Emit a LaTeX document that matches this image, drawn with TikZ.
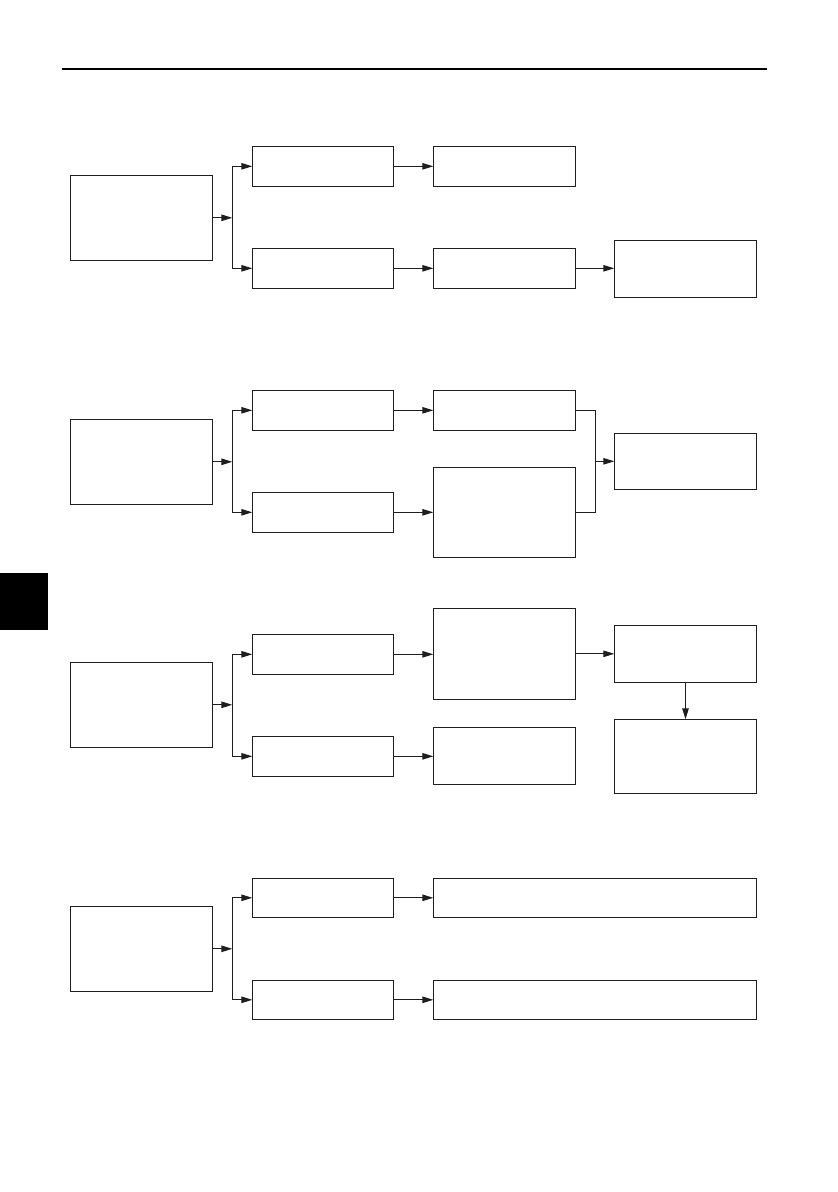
\documentclass[tikz,border=0pt]{standalone}
\usetikzlibrary{arrows.meta,calc}
\definecolor{ink}{RGB}{30,30,30}
\tikzset{
  box/.style={draw=ink, line width=1.2pt, rectangle, inner sep=0pt, outer sep=0pt, anchor=north west},
  arr/.style={draw=ink, line width=1.1pt, -{Triangle[length=11pt,width=6.5pt]}},
  ln/.style={draw=ink, line width=1.1pt},
}
% \bx{name}{x1}{y1}{x2}{y2}
\newcommand{\bx}[5]{\node[box, minimum width={(#4)-(#2)}, minimum height={(#5)-(#3)}] (#1) at (#2,#3) {};}
\begin{document}
\begin{tikzpicture}[x=1pt,y=-1pt]
\useasboundingbox (0,0) rectangle (838,1192);
% header rule and side tab
\draw[line width=2.4pt, black] (62,69) -- (767,69);
\fill[black] (0,573) rectangle (48,630);

% ---------- section 1 ----------
\bx{aA}{70.3}{175.3}{212.3}{260.3}
\bx{aB1}{252.3}{146.3}{393.3}{186.3}
\bx{aC1}{433.3}{146.3}{575.7}{186.3}
\bx{aB2}{252.3}{248.3}{393.3}{288.3}
\bx{aC2}{433.3}{248.3}{575.7}{288.3}
\bx{aD}{614.3}{240.3}{756.7}{297.3}
\coordinate (aJ) at ($(aA.east)+(20,0)$);
\draw[arr] (aA.east) -- (aJ);
\draw[arr] (aJ) |- (aB1.west);
\draw[arr] (aJ) |- (aB2.west);
\draw[arr] (aB1.east) -- (aC1.west);
\draw[arr] (aB2.east) -- (aC2.west);
\draw[arr] (aC2.east) -- (aC2.east -| aD.west);

% ---------- section 2 ----------
\bx{bA}{70.3}{419.3}{212.3}{504.3}
\bx{bB1}{252.3}{390.3}{393.3}{430.3}
\bx{bC1}{433.3}{390.3}{575.7}{430.3}
\bx{bB2}{252.3}{492.3}{393.3}{532.3}
\bx{bC2}{433.3}{467.3}{575.7}{557.3}
\bx{bD}{614.3}{433.3}{756.7}{489.3}
\coordinate (bJ) at ($(bA.east)+(20,0)$);
\draw[arr] (bA.east) -- (bJ);
\draw[arr] (bJ) |- (bB1.west);
\draw[arr] (bJ) |- (bB2.west);
\draw[arr] (bB1.east) -- (bC1.west);
\draw[arr] (bB2.east) -- (bB2.east -| bC2.west);
\coordinate (bM) at ($(bC1.east)+(20,0)$);
\draw[ln] (bC1.east) -| (bM) |- (bC2.east);
\draw[arr] (bM |- bD.west) -- (bD.west);

% ---------- section 3 ----------
\bx{cA}{70.3}{662.3}{212.3}{747.3}
\bx{cB1}{252.3}{634.3}{393.3}{674.3}
\bx{cC1}{433.3}{608.3}{575.7}{699.3}
\bx{cB2}{252.3}{736.3}{393.3}{776.3}
\bx{cC2}{433.3}{727.3}{575.7}{784.3}
\bx{cD}{614.3}{625.3}{756.7}{682.3}
\bx{cE}{614.3}{719.3}{756.7}{793.3}
\coordinate (cJ) at ($(cA.east)+(20,0)$);
\draw[arr] (cA.east) -- (cJ);
\draw[arr] (cJ) |- (cB1.west);
\draw[arr] (cJ) |- (cB2.west);
\draw[arr] (cB1.east) -- (cB1.east -| cC1.west);
\draw[arr] (cB2.east) -- (cB2.east -| cC2.west);
\draw[arr] (cC1.east) -- (cC1.east -| cD.west);
\draw[arr] (cD.south) -- (cE.north);

% ---------- section 4 ----------
\bx{dA}{70.3}{906.3}{212.3}{991.3}
\bx{dB1}{252.3}{878.3}{393.3}{917.3}
\bx{dC1}{433.3}{878.3}{756.7}{917.3}
\bx{dB2}{252.3}{980.3}{393.3}{1019.3}
\bx{dC2}{433.3}{980.3}{756.7}{1019.3}
\coordinate (dJ) at ($(dA.east)+(20,0)$);
\draw[arr] (dA.east) -- (dJ);
\draw[arr] (dJ) |- (dB1.west);
\draw[arr] (dJ) |- (dB2.west);
\draw[arr] (dB1.east) -- (dC1.west);
\draw[arr] (dB2.east) -- (dC2.west);
\end{tikzpicture}
\end{document}
